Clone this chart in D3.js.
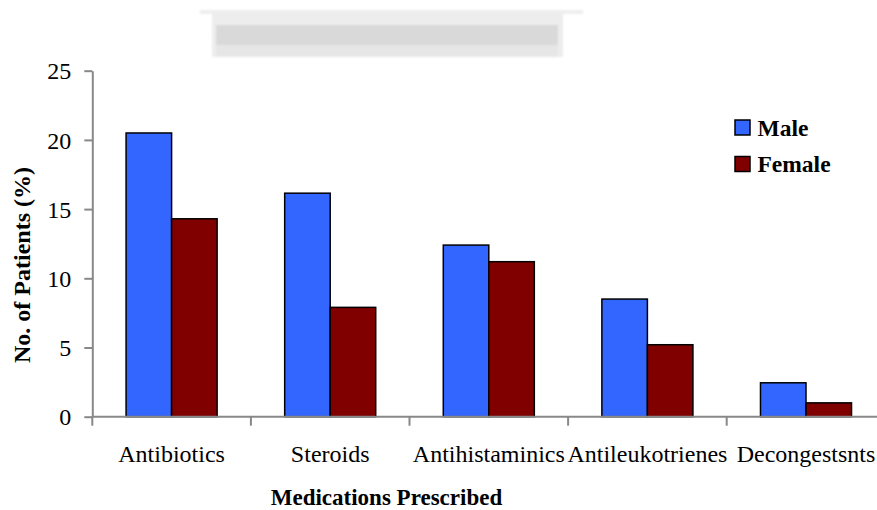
<!DOCTYPE html>
<html>
<head>
<meta charset="utf-8">
<script src="https://cdn.jsdelivr.net/npm/d3@7/dist/d3.min.js"></script>
<style>
  html, body { margin: 0; padding: 0; background: #fff; }
  svg { display: block; }
  text { font-family: "Liberation Serif", "Times New Roman", serif; fill: #000; }
</style>
</head>
<body>
<svg id="chart" width="877" height="510"></svg>
<script>
// Medications prescribed, share of patients by sex
const categories = ["Antibiotics", "Steroids", "Antihistaminics", "Antileukotrienes", "Decongestsnts"];
const series = ["Male", "Female"];
const maleValues = [20.5, 16.15, 12.4, 8.5, 2.45];
const femaleValues = [14.3, 7.9, 11.2, 5.2, 1.0];
const yTicks = [0, 5, 10, 15, 20, 25];
const colors = { Male: "#3366ff", Female: "#800000" };

const svg = d3.select("#chart");
const plotLeft = 92.3, plotRight = 885.3, plotTop = 70.7, plotBottom = 416.7;

const x0 = d3.scaleBand().domain(categories).range([plotLeft, plotRight]).paddingInner(0).paddingOuter(0);
const bw = x0.bandwidth();
const barW = bw * 0.287;
const groupOff = (bw - 2 * barW) / 2;
const x1 = d3.scaleBand().domain(series).range([groupOff, groupOff + 2 * barW]).padding(0);
const y = d3.scaleLinear().domain([0, 25]).range([plotBottom, plotTop]);

// Blurred banner across the top
const defs = svg.append("defs");
defs.append("filter").attr("id", "soft")
  .append("feGaussianBlur").attr("stdDeviation", 1.2);
const banner = svg.append("g").attr("filter", "url(#soft)");
banner.append("rect").attr("x", 200).attr("y", 10).attr("width", 383).attr("height", 4).attr("fill", "#eeeeee");
banner.append("rect").attr("x", 212).attr("y", 12).attr("width", 351).attr("height", 45).attr("fill", "#ededed");
banner.append("rect").attr("x", 216).attr("y", 25).attr("width", 342).attr("height", 20).attr("fill", "#d9d9d9");
banner.append("rect").attr("x", 216).attr("y", 45).attr("width", 342).attr("height", 12).attr("fill", "#e6e6e6");

// Bars
const rows = categories.map((c, i) => ({ cat: c, Male: maleValues[i], Female: femaleValues[i] }));
const groups = svg.append("g").selectAll("g").data(rows).join("g")
  .attr("transform", d => `translate(${x0(d.cat)},0)`);
groups.selectAll("rect").data(d => series.map(s => ({ s, v: d[s] }))).join("rect")
  .attr("x", d => x1(d.s))
  .attr("y", d => y(d.v))
  .attr("width", x1.bandwidth())
  .attr("height", d => y(0) - y(d.v))
  .attr("fill", d => colors[d.s])
  .attr("stroke", "#000")
  .attr("stroke-width", 1.5);

// Y axis
const yAxis = svg.append("g").attr("transform", `translate(${plotLeft},0)`)
  .call(d3.axisLeft(y).tickValues(yTicks).tickSize(8).tickSizeOuter(0).tickPadding(13));
yAxis.select(".domain").attr("stroke", "#888").attr("stroke-width", 2);
yAxis.selectAll(".tick line").attr("stroke", "#888").attr("stroke-width", 2);
yAxis.selectAll(".tick text").attr("font-size", 24).attr("font-family", "Liberation Serif, serif").attr("dy", "0.34em");

// X axis: baseline with ticks between categories
const xAxis = svg.append("g");
xAxis.append("line").attr("x1", plotLeft).attr("x2", 877).attr("y1", y(0)).attr("y2", y(0))
  .attr("stroke", "#888").attr("stroke-width", 2);
const bounds = categories.map(c => x0(c));
xAxis.selectAll("line.tk").data(bounds).join("line").attr("class", "tk")
  .attr("x1", d => d).attr("x2", d => d).attr("y1", y(0)).attr("y2", y(0) + 9)
  .attr("stroke", "#888").attr("stroke-width", 2);
xAxis.selectAll("text").data(categories).join("text")
  .attr("x", d => x0(d) + bw / 2).attr("y", 462)
  .attr("text-anchor", "middle").attr("font-size", 24)
  .text(d => d);

// Axis titles
svg.append("text").attr("x", 386.5).attr("y", 505).attr("text-anchor", "middle")
  .attr("font-size", 23).attr("font-weight", "bold").text("Medications Prescribed");
svg.append("text").attr("transform", "translate(30,265) rotate(-90)").attr("text-anchor", "middle")
  .attr("font-size", 24).attr("font-weight", "bold").text("No. of Patients (%)");

// Legend
const legend = svg.append("g").selectAll("g").data(series).join("g")
  .attr("transform", (d, i) => `translate(735,${120 + i * 36.5})`);
legend.append("rect").attr("width", 15).attr("height", 15)
  .attr("fill", d => colors[d]).attr("stroke", "#000").attr("stroke-width", 1.5);
legend.append("text").attr("x", 22.5).attr("y", 15.5).attr("font-size", 23.5)
  .attr("font-weight", "bold").text(d => d);
</script>
</body>
</html>
